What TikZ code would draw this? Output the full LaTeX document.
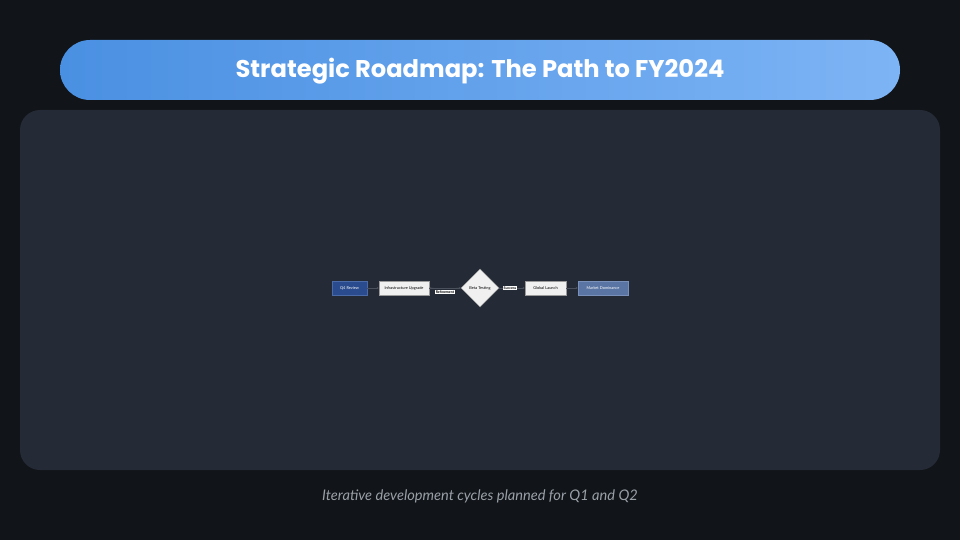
\documentclass[tikz,border=0pt]{standalone}
\usepackage{fontspec}
\setmainfont{Lato}
\newfontfamily\titlefont{Poppins}
\usetikzlibrary{shapes.geometric,arrows.meta}
\definecolor{bgc}{HTML}{111418}
\definecolor{panelc}{HTML}{252B36}
\definecolor{titleL}{HTML}{4A90E2}
\definecolor{titleR}{HTML}{7DB4F5}
\definecolor{darkblue}{HTML}{2A4C8E}
\definecolor{darkblueb}{HTML}{4A6AA8}
\definecolor{midblue}{HTML}{5A75A4}
\definecolor{midblueb}{HTML}{7890BA}
\definecolor{lightbox}{HTML}{F0F0F0}
\definecolor{lightboxb}{HTML}{9A9A9A}
\definecolor{edgec}{HTML}{4A505C}
\definecolor{capc}{HTML}{9AA0A8}
\tikzset{
  x=1pt,y=-1pt,
  proc/.style={rectangle,minimum height=14pt,inner sep=0pt,line width=0.5pt,font=\fontsize{3.9}{4}\selectfont},
  darkproc/.style={proc,fill=darkblue,draw=darkblueb,text=white},
  lightproc/.style={proc,fill=lightbox,draw=lightboxb,text=black},
  midproc/.style={proc,fill=midblue,draw=midblueb,text=white},
  decide/.style={diamond,aspect=1,fill=lightbox,draw=lightboxb,line width=0.5pt,inner sep=0pt,minimum width=38pt,minimum height=38pt,font=\fontsize{3.9}{4}\selectfont},
  conn/.style={draw=edgec,line width=0.6pt,-{Stealth[length=2pt,width=2pt]}},
  elabel/.style={fill=white,text=black,inner sep=0.4pt,font=\bfseries\fontsize{3.6}{4}\selectfont}
}
\begin{document}
\begin{tikzpicture}
\fill[bgc] (0,0) rectangle (960,540);
\useasboundingbox (0,0) rectangle (960,540);
% title bar
\shade[left color=titleL,right color=titleR,rounded corners=30pt] (60,40) rectangle (900,100);
\node[text=white,font=\titlefont\bfseries\fontsize{24.2}{28}\selectfont] (title) at (480,71) {Strategic Roadmap: The Path to FY2024};
% panel
\fill[panelc,rounded corners=20pt] (20,110) rectangle (940,470);
% nodes
\node[darkproc,minimum width=35pt] (q4) at (349.5,288) {Q4 Review};
\node[lightproc,minimum width=50pt] (infra) at (404,288) {Infrastructure Upgrade};
\node[decide] (beta) at (480,288) {Beta Testing};
\node[lightproc,minimum width=41pt] (glob) at (545.5,288) {Global Launch};
\node[midproc,minimum width=50pt] (mkt) at (603,288) {Market Dominance};
% connectors
\draw[conn] (q4) -- (infra);
\draw[conn] (infra) -- (beta);
\draw[conn] (beta.west) to[bend left=4] node[elabel,pos=0.5,yshift=-3.5pt] (lref) {Refinement} (infra.east);
\draw[conn] (beta) -- node[elabel,pos=0.42] (lsuc) {Success} (glob);
\draw[conn] (glob) -- (mkt);
% caption
\node[text=capc,font=\itshape\fontsize{14.6}{17}\selectfont] (cap) at (480,496) {Iterative development cycles planned for Q1 and Q2};
\end{tikzpicture}
\end{document}
